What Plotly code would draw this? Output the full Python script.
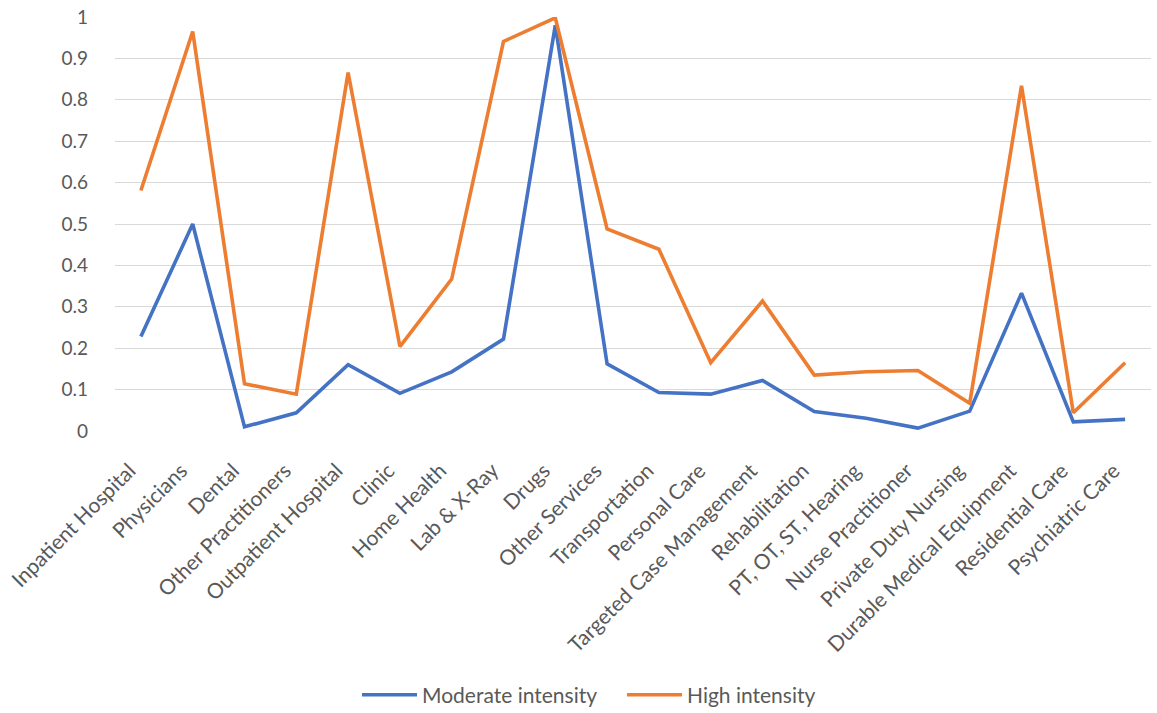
import plotly.graph_objects as go

categories = [
    "Inpatient Hospital", "Physicians", "Dental", "Other Practitioners",
    "Outpatient Hospital", "Clinic", "Home Health", "Lab & X-Ray", "Drugs",
    "Other Services", "Transportation", "Personal Care",
    "Targeted Case Management", "Rehabilitation", "PT, OT, ST, Hearing",
    "Nurse Practitioner", "Private Duty Nursing", "Durable Medical Equipment",
    "Residential Care", "Psychiatric Care",
]

moderate = [0.228, 0.500, 0.010, 0.044, 0.160, 0.091, 0.143, 0.222, 0.980,
            0.162, 0.093, 0.089, 0.122, 0.047, 0.031, 0.007, 0.048, 0.333,
            0.022, 0.028]

high = [0.581, 0.965, 0.114, 0.089, 0.866, 0.204, 0.367, 0.941, 0.998,
        0.488, 0.439, 0.165, 0.314, 0.135, 0.143, 0.146, 0.067, 0.834,
        0.044, 0.165]

y_ticks = [0, 0.1, 0.2, 0.3, 0.4, 0.5, 0.6, 0.7, 0.8, 0.9, 1]
y_tick_text = ["0", "0.1", "0.2", "0.3", "0.4", "0.5", "0.6", "0.7", "0.8", "0.9", "1"]

FONT = "Lato"
TEXT_COLOR = "#595959"

# pad the end of each slanted label so it sits a little down-left of its tick
x_tick_text = [c + "\u00a0" * 3 for c in categories]

fig = go.Figure()
fig.add_trace(go.Scatter(
    x=categories, y=moderate, mode="lines", name="Moderate intensity",
    line=dict(color="#4472C4", width=3.6),
))
fig.add_trace(go.Scatter(
    x=categories, y=high, mode="lines", name="High intensity",
    line=dict(color="#ED7D31", width=3.6),
))

fig.update_layout(
    width=1157, height=713,
    margin=dict(l=115, r=6, t=17, b=282, autoexpand=False),
    paper_bgcolor="white", plot_bgcolor="white",
    font=dict(family=FONT, color=TEXT_COLOR, size=19),
    showlegend=True,
    legend=dict(
        orientation="h", x=0.2336, xanchor="left", y=-0.638, yanchor="middle",
        font=dict(size=21, color=TEXT_COLOR), itemwidth=55,
        entrywidth=195, entrywidthmode="pixels",
    ),
    xaxis=dict(
        type="category", tickangle=-45, showgrid=False, zeroline=False,
        showline=False, ticks="", tickfont=dict(size=21, color=TEXT_COLOR),
        range=[-0.5, len(categories) - 0.5], ticklabelstandoff=11,
        tickmode="array", tickvals=categories, ticktext=x_tick_text,
        automargin=False,
    ),
    yaxis=dict(
        range=[0, 1], tickvals=y_ticks, ticktext=y_tick_text,
        showgrid=True, gridcolor="#D9D9D9", gridwidth=1, zeroline=False,
        showline=False, ticks="", tickfont=dict(size=19, color=TEXT_COLOR),
        ticklabelstandoff=26, automargin=False,
    ),
)

fig.write_html("out.html")
